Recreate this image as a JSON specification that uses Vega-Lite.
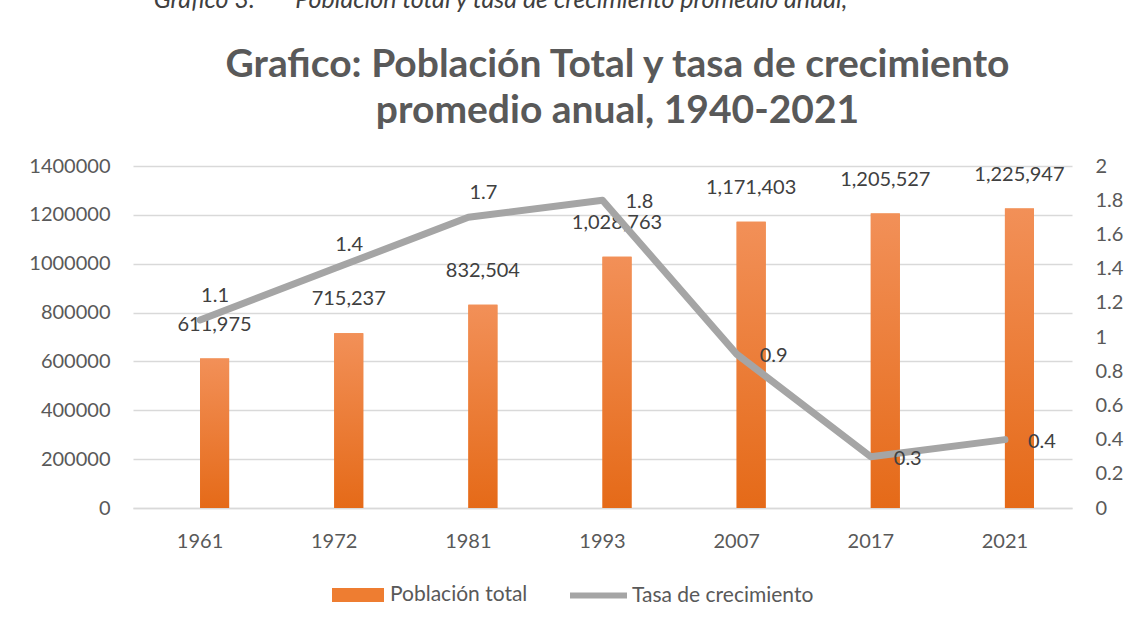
{
  "$schema": "https://vega.github.io/schema/vega-lite/v6.json",
  "width": 939,
  "height": 342,
  "autosize": {"type": "none"},
  "padding": {"left": 133, "top": 166, "right": 59, "bottom": 116},
  "background": "white",
  "title": {
    "text": "Gráfico 3.\u2003\u2003 Población total y tasa de crecimiento promedio anual,",
    "subtitle": ["\u200b\u2003\u2003\u2003\u2003\u2003\u2003\u2003\u2003Grafico: Población Total y tasa de crecimiento", "\u200b\u2003\u2003\u2003\u2003\u2003\u2003\u2003\u2003promedio anual, 1940-2021"],
    "anchor": "middle",
    "frame": "group",
    "dx": -102,
    "offset": 25,
    "font": "Lato",
    "fontSize": 25,
    "fontStyle": "italic",
    "fontWeight": "normal",
    "color": "#404040",
    "subtitleFont": "Lato",
    "subtitleFontSize": 39,
    "subtitleFontWeight": "bold",
    "subtitleColor": "#595959",
    "subtitleLineHeight": 46,
    "subtitlePadding": 33
  },
  "data": {
    "values": [
      {"anio": "1961", "poblacion": 611975, "tasa": 1.1},
      {"anio": "1972", "poblacion": 715237, "tasa": 1.4},
      {"anio": "1981", "poblacion": 832504, "tasa": 1.7},
      {"anio": "1993", "poblacion": 1028763, "tasa": 1.8},
      {"anio": "2007", "poblacion": 1171403, "tasa": 0.9},
      {"anio": "2017", "poblacion": 1205527, "tasa": 0.3},
      {"anio": "2021", "poblacion": 1225947, "tasa": 0.4}
    ]
  },
  "encoding": {
    "x": {
      "field": "anio",
      "type": "ordinal",
      "scale": {"paddingInner": 0.567, "paddingOuter": 0.2835},
      "axis": {
        "title": null,
        "labelAngle": 0,
        "labelFont": "Lato",
        "labelFontSize": 20,
        "labelColor": "#595959",
        "ticks": false,
        "tickSize": 0,
        "domainColor": "#D9D9D9",
        "domainWidth": 1.3,
        "labelPadding": 23,
        "grid": false
      }
    }
  },
  "layer": [
    {
      "encoding": {
        "y": {
          "field": "poblacion",
          "type": "quantitative",
          "scale": {"domain": [0, 1400000]},
          "axis": {
            "title": null,
            "values": [0, 200000, 400000, 600000, 800000, 1000000, 1200000, 1400000],
            "format": "d",
            "grid": true,
            "gridColor": "#D9D9D9",
            "gridWidth": 1.3,
            "domain": false,
            "ticks": false,
            "tickSize": 0,
            "labelPadding": 23,
            "labelFont": "Lato",
            "labelFontSize": 20,
            "labelColor": "#595959"
          }
        },
        "xOffset": {"datum": "b", "scale": {"domain": ["a", "b"], "paddingInner": 0, "paddingOuter": 0}}
      },
      "layer": [
        {
          "mark": {"type": "bar"},
          "encoding": {
            "fill": {
              "datum": "Población total",
              "scale": {"range": ["#EE7D31"]},
              "legend": {
                "orient": "none",
                "legendX": 199,
                "legendY": 403,
                "title": null,
                "symbolType": "M-1,-0.27H1V0.27H-1Z",
                "symbolSize": 2704,
                "symbolStrokeWidth": 0,
                "labelFont": "Lato",
                "labelFontSize": 21,
                "labelColor": "#595959",
                "labelOffset": 6,
                "labelLimit": 300
              }
            }
          }
        },
        {
          "mark": {
            "type": "bar",
            "fill": {"gradient": "linear", "x1": 0, "y1": 0, "x2": 0, "y2": 1,
                     "stops": [{"offset": 0, "color": "#F29058"}, {"offset": 1, "color": "#E56A18"}]}
          }
        }
      ]
    },
    {
      "mark": {"type": "text", "dx": 14.5, "dy": -28, "baseline": "alphabetic", "align": "center", "font": "Lato", "fontSize": 20, "fill": "#404040"},
      "encoding": {
        "y": {"field": "poblacion", "type": "quantitative", "scale": {"domain": [0, 1400000]}, "axis": null},
        "text": {"field": "poblacion", "type": "quantitative", "format": ",d"}
      }
    },
    {
      "encoding": {
        "y": {
          "field": "tasa",
          "type": "quantitative",
          "scale": {"domain": [0, 2]},
          "axis": {
            "orient": "right",
            "title": null,
            "values": [0, 0.2, 0.4, 0.6, 0.8, 1, 1.2, 1.4, 1.6, 1.8, 2],
            "format": ".1~f",
            "grid": false,
            "domain": false,
            "ticks": false,
            "tickSize": 0,
            "labelPadding": 23,
            "labelFont": "Lato",
            "labelFontSize": 20,
            "labelColor": "#595959"
          }
        }
      },
      "layer": [
        {
          "mark": {"type": "line", "strokeWidth": 7, "strokeCap": "round", "strokeJoin": "round"},
          "encoding": {
            "stroke": {
              "datum": "Tasa de crecimiento",
              "scale": {"range": ["#A5A5A5"]},
              "legend": {
                "orient": "none",
                "legendX": 434,
                "legendY": 398,
                "title": null,
                "symbolType": "stroke",
                "symbolSize": 3249,
                "symbolStrokeWidth": 6,
                "labelFont": "Lato",
                "labelFontSize": 21,
                "labelColor": "#595959",
                "labelOffset": 2,
                "labelLimit": 300
              }
            }
          }
        },
        {
          "transform": [{"filter": {"field": "anio", "oneOf": ["1961", "1972", "1981"]}}],
          "mark": {"type": "text", "dx": 15, "dy": -24, "baseline": "middle", "align": "center", "font": "Lato", "fontSize": 20, "fill": "#404040"},
          "encoding": {
            "text": {"field": "tasa", "type": "quantitative", "format": ".1f"}
          }
        },
        {
          "transform": [{"filter": {"field": "anio", "oneOf": ["1993", "2007", "2017", "2021"]}}],
          "mark": {"type": "text", "dx": 23, "dy": 2, "baseline": "middle", "align": "left", "font": "Lato", "fontSize": 20, "fill": "#404040"},
          "encoding": {
            "text": {"field": "tasa", "type": "quantitative", "format": ".1f"}
          }
        }
      ]
    }
  ],
  "resolve": {"scale": {"y": "independent"}},
  "config": {
    "view": {"stroke": null},
    "font": "Lato"
  }
}
